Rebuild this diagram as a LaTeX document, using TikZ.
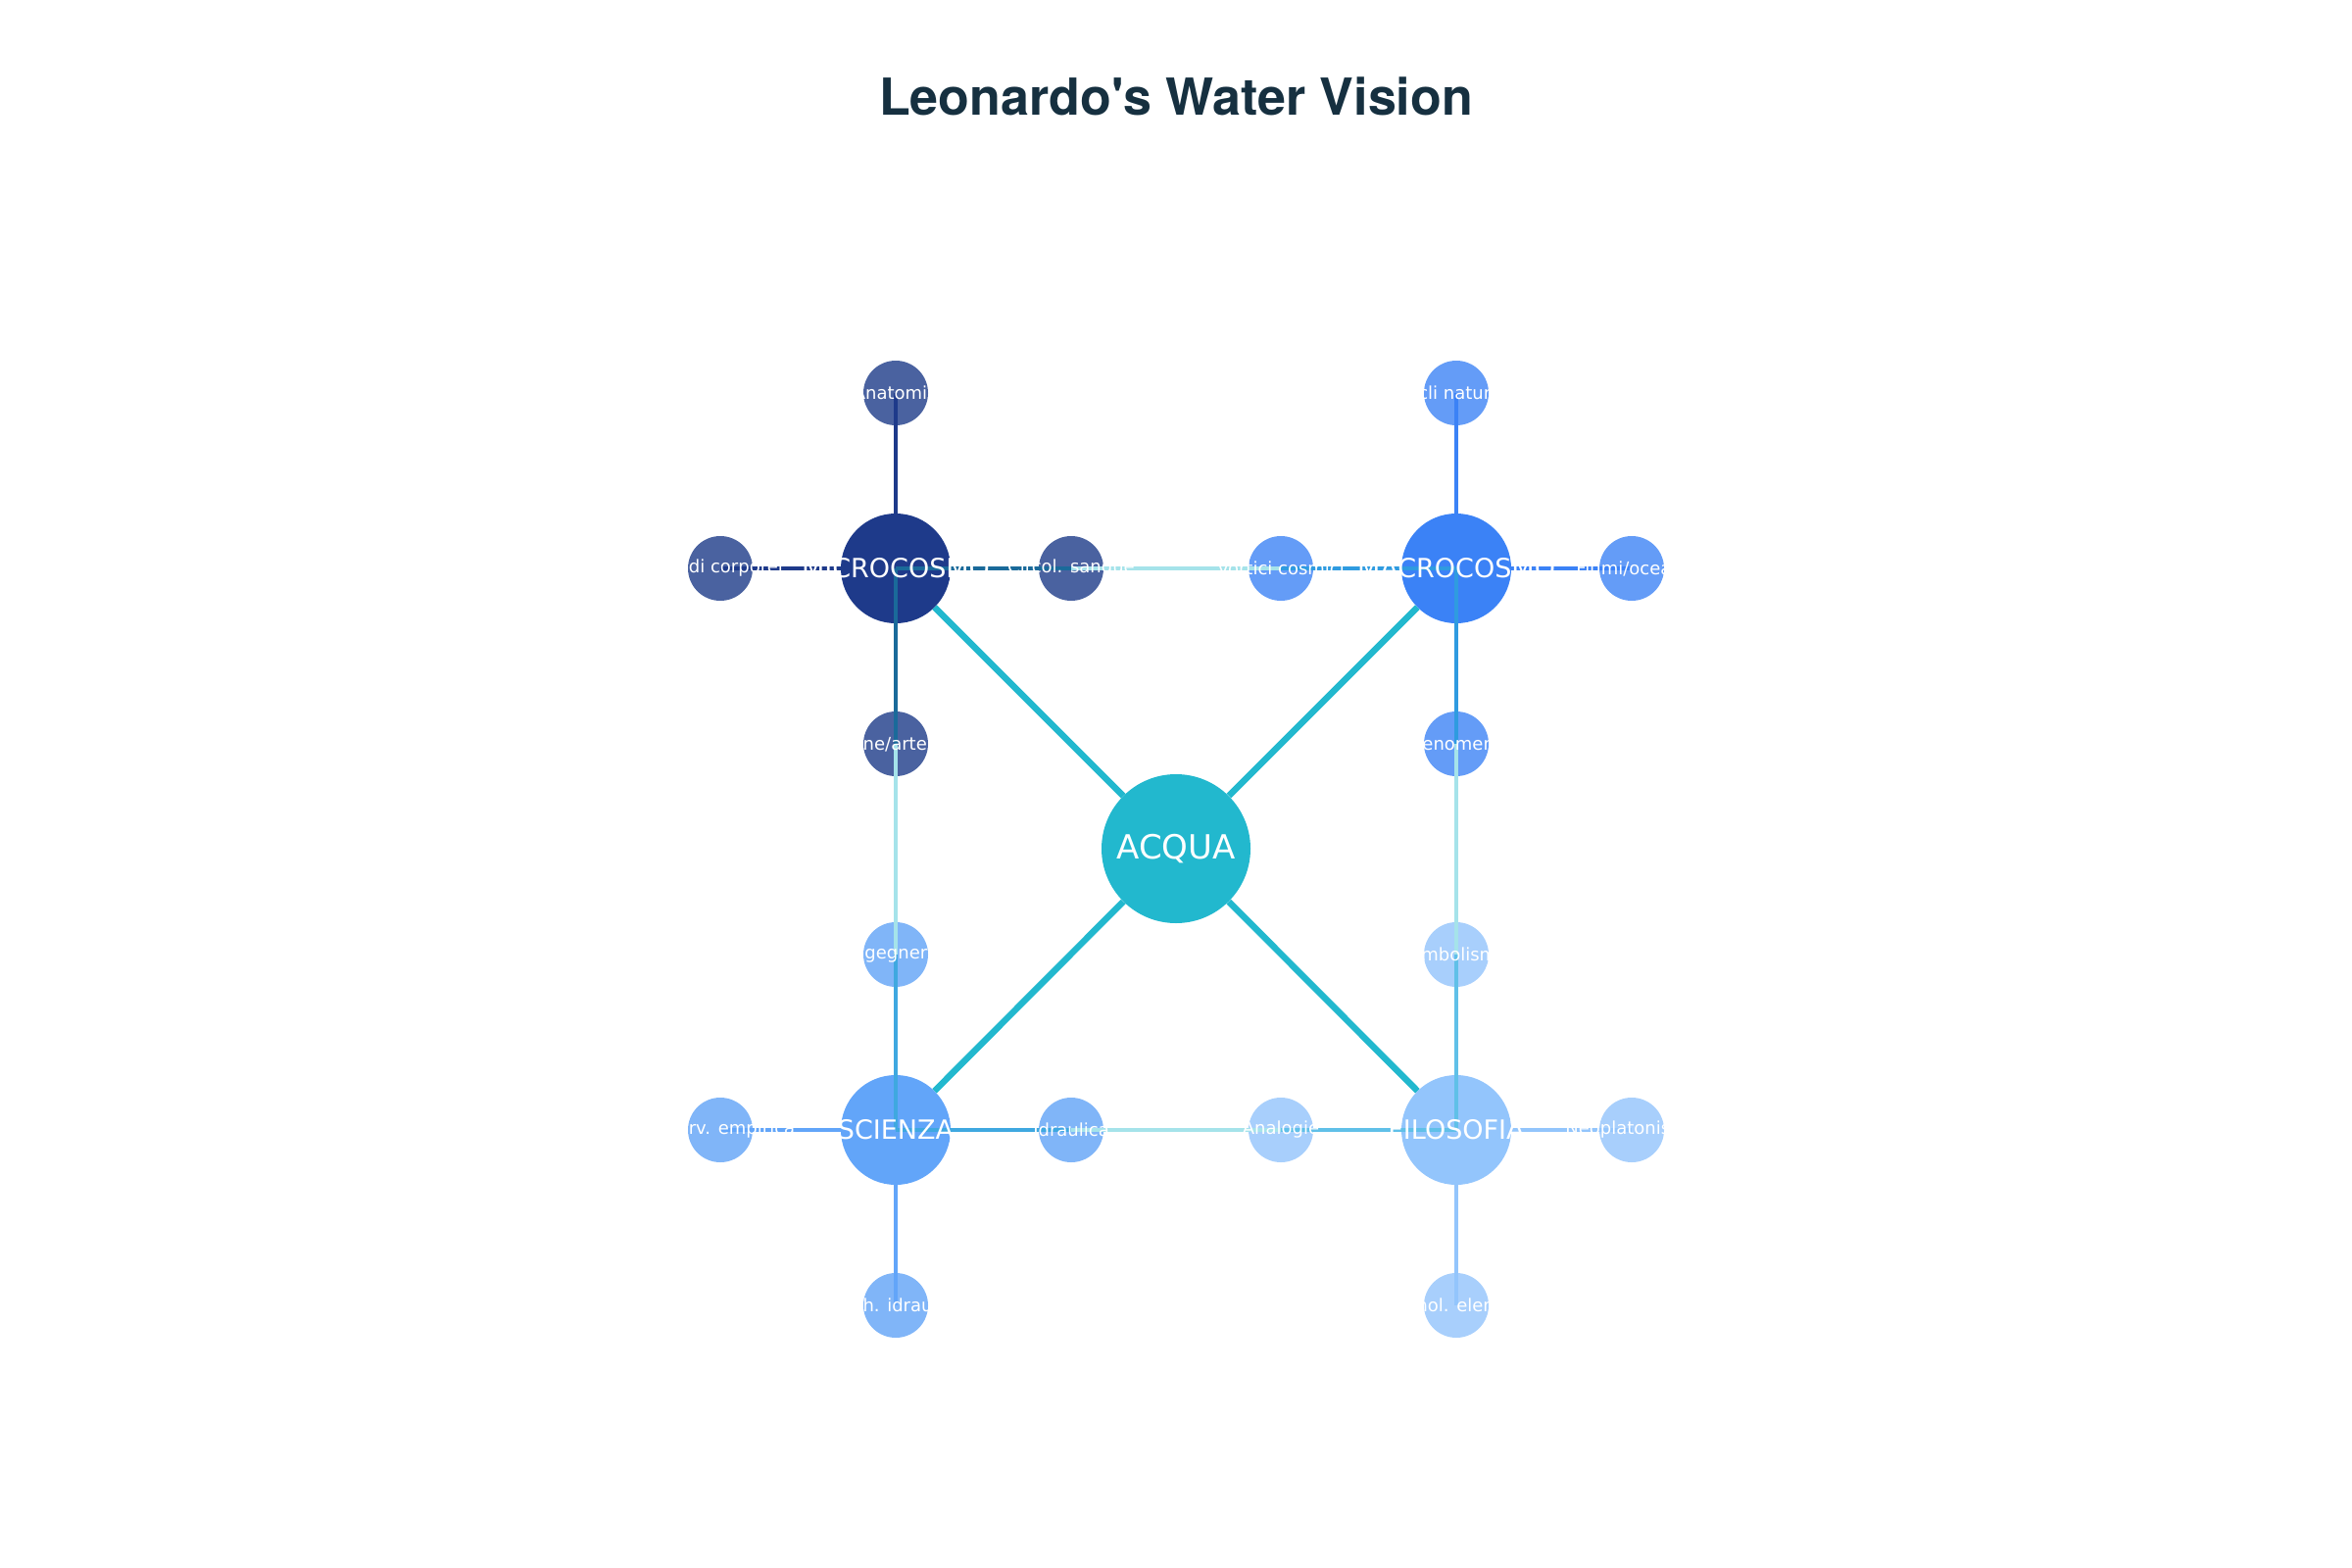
\documentclass[tikz,border=0pt]{standalone}
\usepackage{fontspec}
\setmainfont{DejaVu Sans}
\newfontfamily\titlefont{TeX Gyre Heros}
\begin{document}
\begin{tikzpicture}[x=1pt,y=-1pt]
\definecolor{hA}{HTML}{1E3A8A}\definecolor{sA}{HTML}{4A62A0}
\definecolor{hB}{HTML}{3B82F6}\definecolor{sB}{HTML}{649CF7}
\definecolor{hC}{HTML}{62A5F9}\definecolor{sC}{HTML}{80B5F8}
\definecolor{hD}{HTML}{93C5FC}\definecolor{sD}{HTML}{A8CFFC}
\definecolor{teal}{HTML}{22B8CE}\definecolor{cross}{HTML}{A5E3EA}
\definecolor{eA}{HTML}{1A6A9A}\definecolor{eB}{HTML}{2F9BE0}
\definecolor{eC}{HTML}{3FA8E0}\definecolor{eD}{HTML}{60C0E8}
\definecolor{ttl}{HTML}{163040}
\tikzset{
 hub/.style={circle,minimum size=112pt,inner sep=0pt},
 sat/.style={circle,minimum size=66pt,inner sep=0pt},
 core/.style={circle,fill=teal,minimum size=152pt,inner sep=0pt},
 hubtxt/.style={text=white,font=\fontsize{27}{27}\selectfont},
 sattxt/.style={text=white,font=\fontsize{18}{18}\selectfont},
 ed/.style={line width=3.5pt},
 tl/.style={line width=6.5pt,draw=teal},
}
\useasboundingbox (0,0) rectangle (2400,1600);
\node[text=ttl,font=\titlefont\bfseries\fontsize{52}{52}\selectfont] (title) at (1200,98) {Leonardo's Water Vision};
% nodes
\node[core] (c) at (1200,866) {};
\node[hub,fill=hA] (A) at (914,580) {};
\node[hub,fill=hB] (B) at (1486,580) {};
\node[hub,fill=hC] (C) at (914,1153) {};
\node[hub,fill=hD] (D) at (1486,1153) {};
\node[sat,fill=sA] (A1) at (914,401) {};
\node[sat,fill=sA] (A2) at (735,580) {};
\node[sat,fill=sA] (A3) at (1093,580) {};
\node[sat,fill=sA] (A4) at (914,759) {};
\node[sat,fill=sB] (B1) at (1486,401) {};
\node[sat,fill=sB] (B2) at (1665,580) {};
\node[sat,fill=sB] (B3) at (1307,580) {};
\node[sat,fill=sB] (B4) at (1486,759) {};
\node[sat,fill=sC] (C1) at (914,974) {};
\node[sat,fill=sC] (C2) at (735,1153) {};
\node[sat,fill=sC] (C3) at (1093,1153) {};
\node[sat,fill=sC] (C4) at (914,1332) {};
\node[sat,fill=sD] (D1) at (1486,974) {};
\node[sat,fill=sD] (D2) at (1665,1153) {};
\node[sat,fill=sD] (D3) at (1307,1153) {};
\node[sat,fill=sD] (D4) at (1486,1332) {};
% edges
\draw[ed,cross] (A3.center) -- (B3.center);
\draw[ed,cross] (C3.center) -- (D3.center);
\draw[ed,cross] (A4.center) -- (C1.center);
\draw[ed,cross] (B4.center) -- (D1.center);
\draw[ed,hA] (A.center) -- (A1.center);
\draw[ed,hA] (A.center) -- (A2.center);
\draw[ed,eA] (A.center) -- (A3.center);
\draw[ed,eA] (A.center) -- (A4.center);
\draw[ed,hB] (B.center) -- (B1.center);
\draw[ed,hB] (B.center) -- (B2.center);
\draw[ed,eB] (B.center) -- (B3.center);
\draw[ed,eB] (B.center) -- (B4.center);
\draw[ed,hC] (C.center) -- (C4.center);
\draw[ed,hC] (C.center) -- (C2.center);
\draw[ed,eC] (C.center) -- (C1.center);
\draw[ed,eC] (C.center) -- (C3.center);
\draw[ed,hD] (D.center) -- (D4.center);
\draw[ed,hD] (D.center) -- (D2.center);
\draw[ed,eD] (D.center) -- (D1.center);
\draw[ed,eD] (D.center) -- (D3.center);
\draw[tl] (c) -- (A); \draw[tl] (c) -- (B);
\draw[tl] (c) -- (C); \draw[tl] (c) -- (D);
% labels
\node[text=white,font=\fontsize{34}{34}\selectfont] at (c) {ACQUA};
\node[hubtxt] at (A) {MICROCOSMO};
\node[hubtxt] at (B) {MACROCOSMO};
\node[hubtxt] at (C) {SCIENZA};
\node[hubtxt] at (D) {FILOSOFIA};
\node[sattxt] at (A1) {Anatomia};
\node[sattxt] at (A2) {Fluidi corporei};
\node[sattxt] at (A3) {Circol. sangue};
\node[sattxt] at (A4) {Vene/arterie};
\node[sattxt] at (B1) {Cicli naturali};
\node[sattxt] at (B2) {Fiumi/oceani};
\node[sattxt] at (B3) {Vortici cosmici};
\node[sattxt] at (B4) {Fenomeni};
\node[sattxt] at (C1) {Ingegneria};
\node[sattxt] at (C2) {Osserv. empirica};
\node[sattxt] at (C3) {Idraulica};
\node[sattxt] at (C4) {Macch. idrauliche};
\node[sattxt] at (D1) {Simbolismo};
\node[sattxt] at (D2) {Neoplatonismo};
\node[sattxt] at (D3) {Analogie};
\node[sattxt] at (D4) {Cosmol. elementi};
\end{tikzpicture}
\end{document}
